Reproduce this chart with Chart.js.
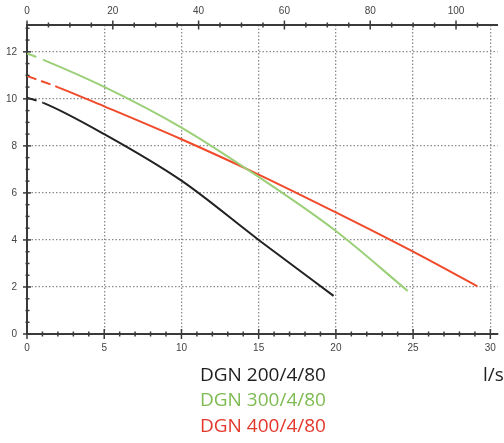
<!DOCTYPE html>
<html>
<head>
<meta charset="utf-8">
<script src="https://cdn.jsdelivr.net/npm/chart.js@4"></script>
<style>
  html, body { margin: 0; padding: 0; background: #fff; }
  #wrap { position: relative; width: 504px; height: 443px; overflow: hidden; }
  .lbl { position: absolute; font-family: 'Open Sans', sans-serif; font-size: 19px; line-height: 25.5px; white-space: nowrap; }
</style>
</head>
<body>
<div id="wrap">
  <canvas id="chart" width="504" height="443"></canvas>
  <div class="lbl" style="left:200px; top:362px; color:#1e1e1e;">DGN 200/4/80</div>
  <div class="lbl" style="left:200px; top:387px; color:#7dbb52;">DGN 300/4/80</div>
  <div class="lbl" style="left:200px; top:413px; color:#e3372a;">DGN 400/4/80</div>
  <div class="lbl" style="left:483px; top:362px; color:#1e1e1e;">l/s</div>
</div>
<script>
// flow in l/s, head in m
const dgn200Flow = [0, 1.06, 5, 10, 15, 19.85];
const dgn200Head = [10.05, 9.83, 8.5, 6.52, 4.0, 1.62];

const dgn300Flow = [0, 1.06, 5, 10, 15, 20, 24.65];
const dgn300Head = [11.93, 11.66, 10.51, 8.78, 6.68, 4.38, 1.83];

const dgn400Flow = [0, 2.02, 5, 10, 15, 20, 25, 29.16];
const dgn400Head = [10.97, 10.49, 9.68, 8.28, 6.78, 5.17, 3.5, 2.03];

const seriesNames = ['DGN 200/4/80', 'DGN 300/4/80', 'DGN 400/4/80'];
const seriesColors = ['#222222', '#9bcf78', '#f04a2a'];

const flowMax = 30.47;   // l/s, right edge
const headMax = 13.14;   // m, top edge

const toPoints = (xs, ys) => xs.map((x, i) => ({ x: x, y: ys[i] }));

const gridColor = '#8c8c8c';
const axisColor = '#3a3a3a';
const tickFont = { family: 'Liberation Sans', size: 10 };

// crossing tick marks like the printed curve sheet
const tickMarks = {
  id: 'tickMarks',
  afterDraw(chart) {
    const { ctx, chartArea: a, scales } = chart;
    ctx.save();
    ctx.strokeStyle = axisColor;
    ctx.lineWidth = 1.5;
    const line = (x1, y1, x2, y2) => { ctx.beginPath(); ctx.moveTo(x1, y1); ctx.lineTo(x2, y2); ctx.stroke(); };
    scales.x.ticks.forEach(t => {
      const px = scales.x.getPixelForValue(t.value);
      const len = t.value % 5 === 0 ? 5 : 2.5;
      line(px, a.bottom - len, px, a.bottom + len);
    });
    scales.x2.ticks.forEach(t => {
      const px = scales.x2.getPixelForValue(t.value);
      const len = t.value % 20 === 0 ? 4.5 : 2.5;
      line(px, a.top - len, px, a.top + len);
    });
    scales.y.ticks.forEach(t => {
      const py = scales.y.getPixelForValue(t.value);
      const major = Math.abs(t.value % 2) < 1e-6;
      if (major) line(a.left - 4, py, a.left + 4, py);
      else line(a.left - 1.5, py, a.left + 2.5, py);
    });
    ctx.restore();
  }
};

const makeDataset = (i, xs, ys, dash) => ({
  label: seriesNames[i],
  data: toPoints(xs, ys),
  borderColor: seriesColors[i],
  backgroundColor: seriesColors[i],
  borderWidth: 2,
  pointRadius: 0,
  cubicInterpolationMode: 'monotone',
  segment: {
    borderDash: c => c.p0DataIndex === 0 ? dash : undefined
  }
});

new Chart(document.getElementById('chart'), {
  type: 'line',
  data: {
    datasets: [
      makeDataset(0, dgn200Flow, dgn200Head, [10, 6]),
      makeDataset(1, dgn300Flow, dgn300Head, [10, 7]),
      makeDataset(2, dgn400Flow, dgn400Head, [10, 5])
    ]
  },
  options: {
    responsive: false,
    animation: false,
    layout: { padding: { left: 0, right: 0, top: 0, bottom: 85 } },
    plugins: {
      legend: { display: false },
      tooltip: { enabled: false }
    },
    scales: {
      x: {
        type: 'linear',
        position: 'bottom',
        min: 0,
        max: flowMax,
        afterFit: s => { s.height = 24; },
        grid: {
          drawTicks: false,
          lineWidth: 1.3,
          color: c => (c.tick && c.tick.value % 5 === 0 && c.tick.value > 0) ? gridColor : 'transparent'
        },
        border: { display: true, color: axisColor, width: 2, dash: [1.5, 2] },
        ticks: {
          stepSize: 1,
          includeBounds: false,
          autoSkip: false,
          maxRotation: 0,
          padding: 8,
          color: '#444',
          font: tickFont,
          callback: v => v % 5 === 0 ? String(v) : ''
        }
      },
      x2: {
        type: 'linear',
        position: 'top',
        min: 0,
        max: flowMax * 3.6,
        afterFit: s => { s.height = 25; },
        grid: { display: false, drawTicks: false },
        border: { display: true, color: axisColor, width: 2 },
        ticks: {
          stepSize: 5,
          includeBounds: false,
          autoSkip: false,
          maxRotation: 0,
          padding: 8,
          color: '#444',
          font: tickFont,
          callback: v => v % 20 === 0 ? String(v) : ''
        }
      },
      y: {
        type: 'linear',
        min: 0,
        max: headMax,
        afterFit: s => { s.width = 27; },
        grid: {
          drawTicks: false,
          lineWidth: 1.3,
          color: c => (c.tick && Math.abs(c.tick.value % 2) < 1e-6 && c.tick.value > 0) ? gridColor : 'transparent'
        },
        border: { display: true, color: axisColor, width: 2, dash: [1.5, 2] },
        ticks: {
          stepSize: 0.5,
          includeBounds: false,
          autoSkip: false,
          padding: 10,
          color: '#444',
          font: tickFont,
          callback: v => Math.abs(v % 2) < 1e-6 ? String(v) : ''
        }
      }
    }
  },
  plugins: [tickMarks]
});
</script>
</body>
</html>
